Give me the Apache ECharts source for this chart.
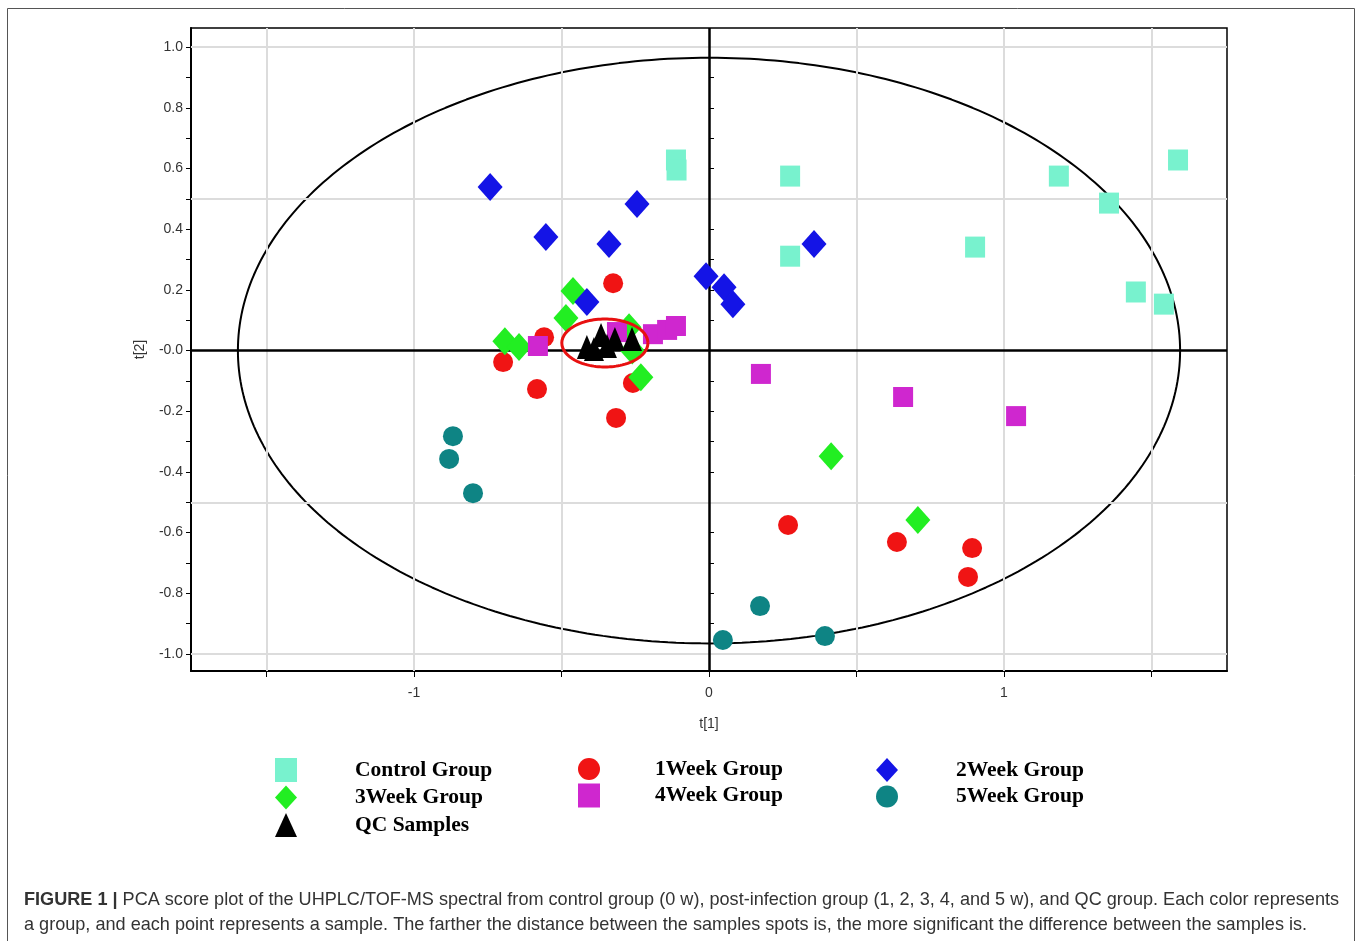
<!DOCTYPE html>
<html><head><meta charset="utf-8">
<script src="https://cdn.jsdelivr.net/npm/echarts@6/dist/echarts.min.js"></script>
<style>html,body{margin:0;padding:0;background:#fff}#c{width:1357px;height:941px}</style>
</head><body><div id="c"></div>
<script>
// ---- data (t[1], t[2]) ----
const groupNames = ['Control Group','1Week Group','2Week Group','3Week Group','4Week Group','5Week Group','QC Samples'];
const controlGroup = [[-0.112,0.628],[-0.110,0.595],[0.275,0.575],[0.275,0.311],[0.902,0.341],[1.186,0.575],[1.356,0.486],[1.590,0.628],[1.447,0.193],[1.542,0.153]];
const week1Group = [[-0.325,0.222],[-0.559,0.044],[-0.698,-0.038],[-0.583,-0.127],[-0.315,-0.222],[-0.258,-0.107],[0.268,-0.575],[0.637,-0.631],[0.892,-0.651],[0.878,-0.746]];
const week2Group = [[-0.742,0.539],[-0.553,0.374],[-0.339,0.351],[-0.244,0.483],[-0.414,0.160],[-0.010,0.245],[0.051,0.209],[0.081,0.153],[0.356,0.351]];
const week3Group = [[-0.461,0.196],[-0.485,0.107],[-0.692,0.031],[-0.644,0.012],[-0.271,0.077],[-0.260,0.000],[-0.231,-0.088],[0.414,-0.348],[0.708,-0.558]];
const week4Group = [[-0.580,0.015],[-0.312,0.061],[-0.190,0.054],[-0.142,0.068],[-0.112,0.081],[0.176,-0.077],[0.658,-0.153],[1.041,-0.216]];
const week5Group = [[-0.868,-0.282],[-0.881,-0.357],[-0.800,-0.470],[0.173,-0.842],[0.047,-0.954],[0.393,-0.941]];
const qcSamples = [[-0.414,0.012],[-0.390,0.005],[-0.366,0.051],[-0.346,0.015],[-0.319,0.038],[-0.261,0.038]];

const xTickValues = [-1.5,-1,-0.5,0,0.5,1,1.5];
const xLabelValues = [-1,0,1];
const yLabelValues = [-1,-0.8,-0.6,-0.4,-0.2,0,0.2,0.4,0.6,0.8,1];
const yTickValues = [-1,-0.9,-0.8,-0.7,-0.6,-0.5,-0.4,-0.3,-0.2,-0.1,0,0.1,0.2,0.3,0.4,0.5,0.6,0.7,0.8,0.9,1];
const xGridValues = [-1.5,-1,-0.5,0.5,1,1.5];
const yGridValues = [-1,-0.5,0.5,1];

// Hotelling T2 ellipse and QC highlight ellipse (centre, semi-axes)
const t2Ellipse = {cx:0, cy:0, a:1.597, b:0.965};
const qcEllipse = {cx:-0.353, cy:0.025, a:0.146, b:0.079};

function ellipsePoints(e){
  const pts=[];
  for(let i=0;i<=360;i++){const t=i*Math.PI/180;pts.push([e.cx+e.a*Math.cos(t), e.cy+e.b*Math.sin(t)]);}
  return pts;
}

const colors = {
  'Control Group':'#78F2CE','1Week Group':'#F01414','2Week Group':'#1414E6',
  '3Week Group':'#22EE22','4Week Group':'#CF27CF','5Week Group':'#0E8484','QC Samples':'#000000'
};

const chart = echarts.init(document.getElementById('c'), null, {renderer:'canvas'});
const axisFont = {fontFamily:'Liberation Sans, Arial, sans-serif', fontSize:14, color:'#333'};
function legendText(pad){
  return {fontFamily:'Liberation Serif, Times New Roman, serif', fontWeight:'bold', fontSize:21.5, color:'#000', padding:[0,0,0,pad]};
}

function scatter(name, data, symbol, size, z){
  return {name, type:'scatter', data, symbol, symbolSize:size, z:z||5,
    itemStyle:{color:colors[name], opacity:1}, xAxisIndex:0, yAxisIndex:0};
}

const legendBase = {orient:'vertical', top:753, itemWidth:22, itemHeight:24, itemGap:3.5, selectedMode:false};

chart.setOption({
  animation:false,
  backgroundColor:'#fff',
  grid:{left:191, right:130, top:28, bottom:270, show:true, borderColor:'#000', borderWidth:1.5, backgroundColor:'transparent'},
  xAxis:[{
    type:'value', min:-1.756, max:1.756,
    name:'t[1]', nameLocation:'middle', nameGap:46, nameTextStyle:axisFont,
    axisLine:{show:true, onZero:false, lineStyle:{color:'#000', width:2}},
    axisTick:{show:true, length:6, customValues:xTickValues, lineStyle:{color:'#000', width:1}},
    axisLabel:Object.assign({customValues:xLabelValues, margin:15, formatter:v=>String(Math.round(v))}, axisFont),
    splitLine:{show:false}
  },{
    type:'value', min:-1.756, max:1.756, position:'bottom',
    axisLine:{show:false}, axisLabel:{show:false}, splitLine:{show:false},
    axisTick:{show:true, inside:true, length:5, customValues:xTickValues, lineStyle:{color:'#000', width:1}}
  }],
  yAxis:[{
    type:'value', min:-1.056, max:1.063,
    name:'t[2]', nameLocation:'middle', nameGap:44, nameRotate:90, nameTextStyle:axisFont,
    axisLine:{show:true, onZero:false, lineStyle:{color:'#000', width:2}},
    axisTick:{show:true, length:5, customValues:yTickValues, lineStyle:{color:'#000', width:1}},
    axisLabel:Object.assign({customValues:yLabelValues, margin:8,
      formatter:v=>(Math.abs(v)<1e-9?'-0.0':v.toFixed(1))}, axisFont),
    splitLine:{show:false}
  },{
    type:'value', min:-1.056, max:1.063, position:'left',
    axisLine:{show:false}, axisLabel:{show:false}, splitLine:{show:false},
    axisTick:{show:true, inside:true, length:5, customValues:yTickValues, lineStyle:{color:'#000', width:1}}
  }],
  legend:[
    Object.assign({data:['Control Group','3Week Group','QC Samples'], left:270, textStyle:legendText(53)}, legendBase),
    Object.assign({data:['1Week Group','4Week Group'], left:573, textStyle:legendText(50)}, legendBase),
    Object.assign({data:['2Week Group','5Week Group'], left:871, textStyle:legendText(53)}, legendBase)
  ],
  graphic:[
    {type:'rect', shape:{x:7.5, y:8.5, width:1347, height:950}, style:{fill:'none', stroke:'#555', lineWidth:1}, silent:true},
    {type:'text', left:24, top:891, style:{
      text:'{b|FIGURE 1 |} PCA score plot of the UHPLC/TOF-MS spectral from control group (0 w), post-infection group (1, 2, 3, 4, and 5 w), and QC group. Each color represents',
      fontFamily:'Liberation Sans, Arial, sans-serif', fontSize:18.1, fill:'#333',
      rich:{b:{fontWeight:'bold', fontFamily:'Liberation Sans, Arial, sans-serif', fontSize:18.1, fill:'#333'}}}},
    {type:'text', left:24, top:916, style:{
      text:'a group, and each point represents a sample. The farther the distance between the samples spots is, the more significant the difference between the samples is.',
      fontFamily:'Liberation Sans, Arial, sans-serif', fontSize:18.1, fill:'#333'}}
  ],
  series:[
    {name:'grid', type:'line', data:[], z:1, silent:true,
     markLine:{silent:true, symbol:['none','none'], label:{show:false},
       lineStyle:{color:'#dcdcdc', width:2, type:'solid'},
       data:xGridValues.map(v=>({xAxis:v})).concat(yGridValues.map(v=>({yAxis:v})))}},
    {name:'T2 ellipse', type:'line', data:ellipsePoints(t2Ellipse), showSymbol:false, symbol:'none', z:2, silent:true,
     lineStyle:{color:'#000', width:2},
     markLine:{silent:true, symbol:['none','none'], label:{show:false},
       lineStyle:{color:'#000', width:2.5, type:'solid'},
       data:[{xAxis:0},{yAxis:0}]}},
    scatter('Control Group', controlGroup, 'rect', [20,21]),
    scatter('1Week Group', week1Group, 'circle', 20),
    scatter('3Week Group', week3Group, 'diamond', [25,28]),
    scatter('2Week Group', week2Group, 'diamond', [25,28]),
    scatter('4Week Group', week4Group, 'rect', [20,20]),
    scatter('5Week Group', week5Group, 'circle', 20),
    scatter('QC Samples', qcSamples, 'triangle', [20,24]),
    {name:'QC ellipse', type:'line', data:ellipsePoints(qcEllipse), showSymbol:false, symbol:'none', z:8, silent:true,
     lineStyle:{color:'#E81010', width:3}}
  ]
});
</script></body></html>
